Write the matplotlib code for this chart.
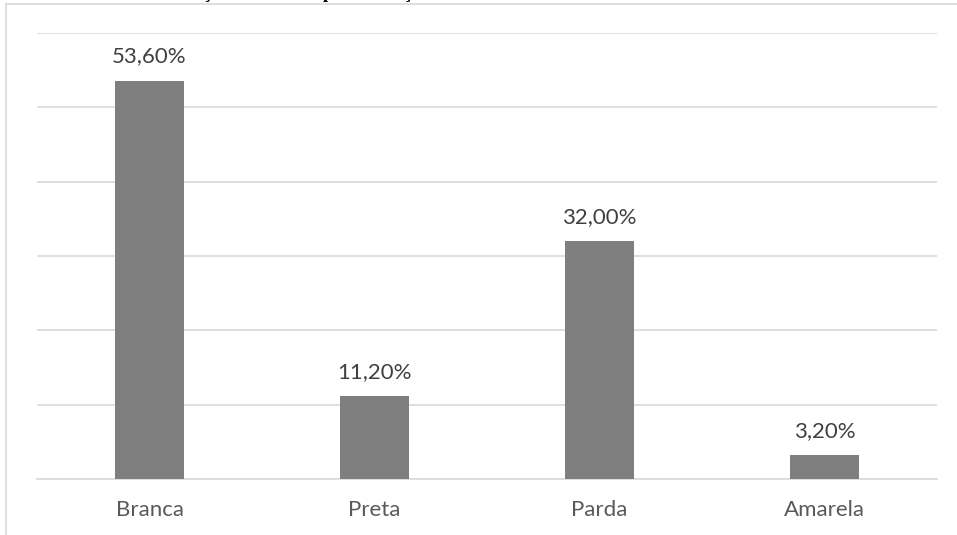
import matplotlib.pyplot as plt
from matplotlib.lines import Line2D

categorias = ['Branca', 'Preta', 'Parda', 'Amarela']
valores = [53.6, 11.2, 32.0, 3.2]
rotulos = ['53,60%', '11,20%', '32,00%', '3,20%']
titulo = 'Distribuição dos alunos por cor/raça'

W, H = 957, 535
fig = plt.figure(figsize=(W / 100, H / 100), dpi=100)
fig.patch.set_facecolor('white')

# moldura do gráfico (cortada na imagem)
fig.add_artist(Line2D([6 / W, 6 / W], [0, 1 - 4 / H], transform=fig.transFigure,
                      color='#d9d9d9', lw=1.2))
fig.add_artist(Line2D([6 / W, 1], [1 - 4 / H, 1 - 4 / H], transform=fig.transFigure,
                      color='#d9d9d9', lw=1.2))

# título cortado no topo, só aparecem as partes de baixo das letras
fig.text(132 / W, 1 + 2.5 / H, titulo, ha='left', va='baseline',
         family='Liberation Serif', fontweight='bold', fontsize=13.4, color='black')

ax = fig.add_axes([37 / W, (H - 479) / H, 900 / W, (479 - 33) / H])
x = range(len(categorias))
barras = ax.bar(x, valores, width=0.31, color='#7f7f7f', zorder=3)

for b, r in zip(barras, rotulos):
    ax.annotate(r, (b.get_x() + b.get_width() / 2, b.get_height()),
                xytext=(0, 13), textcoords='offset points', ha='center', va='baseline',
                family='Lato', fontsize=16, color='#404040')

ax.set_xlim(-0.5, 3.5)
ax.set_ylim(0, 60)
ax.set_yticks(range(0, 61, 10))
ax.set_yticklabels([])
ax.tick_params(axis='y', length=0)
ax.tick_params(axis='x', length=0, pad=15)
ax.set_xticks(list(x))
ax.set_xticklabels(categorias, family='Lato', fontsize=16, color='#595959')
ax.grid(axis='y', color='#d9d9d9', lw=1.2, zorder=0)
for s in ['top', 'right', 'left']:
    ax.spines[s].set_visible(False)
ax.spines['bottom'].set_color('#d9d9d9')
ax.spines['bottom'].set_linewidth(1.2)
ax.set_facecolor('none')

fig.savefig('out.png', dpi=100)
